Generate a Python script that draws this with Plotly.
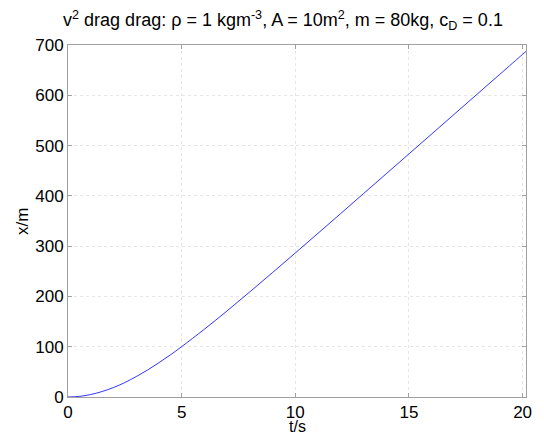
import plotly.graph_objects as go

t_s = [0, 0.5, 1, 1.5, 2, 2.5, 3, 3.5, 4, 4.5, 5, 6, 7, 8, 9, 10, 11, 12, 13, 14, 15, 16, 17, 18, 19, 20, 20.15]
x_m = [0, 1.2, 4.9, 10.9, 18.8, 28.7, 40.6, 53.6, 68.2, 83.6, 100.1, 134.8, 171.3, 209.1, 247.5, 286.4,
       325.6, 364.9, 404.4, 443.9, 483.4, 523.0, 562.6, 602.2, 641.8, 681.4, 687.3]
x_ticks = [0, 5, 10, 15, 20]
y_ticks = [0, 100, 200, 300, 400, 500, 600, 700]

fig = go.Figure()
fig.add_trace(go.Scatter(x=t_s, y=x_m, mode="lines", line=dict(color="#0000ff", width=0.8, shape="spline")))

font = dict(family="Liberation Sans, Arial, sans-serif", size=17, color="black")
axis_common = dict(
    showgrid=True, gridcolor="#e6e6e6", griddash="dot", gridwidth=1,
    showline=True, linecolor="#a0a0a0", linewidth=1, mirror="ticks",
    ticks="inside", ticklen=4, tickcolor="#a0a0a0",
    zeroline=False, tickfont=font, automargin=False,
)
W, H = 544, 436
fig.update_layout(
    width=W, height=H,
    margin=dict(l=68, r=18, t=45, b=39),
    paper_bgcolor="white", plot_bgcolor="white",
    showlegend=False,
    title=dict(text="v<sup>2</sup> drag drag: ρ = 1 kgm<sup>-3</sup>, A = 10m<sup>2</sup>, m = 80kg, c<sub>D</sub> = 0.1",
               x=283/W, xanchor="center", y=1 - 20/H, yanchor="middle",
               font=dict(family="Liberation Sans, Arial, sans-serif", size=18, color="black")),
    xaxis=dict(range=[0, 20.15], tickvals=x_ticks, **axis_common),
    yaxis=dict(range=[0, 700], tickvals=y_ticks, **axis_common),
    annotations=[
        dict(text="t/s", xref="paper", yref="paper", x=(297-68)/(W-86), y=-(436-397)/(H-84),
             xanchor="center", yanchor="bottom", showarrow=False, borderpad=0,
             font=dict(family="Liberation Sans, Arial, sans-serif", size=16, color="black")),
        dict(text="x/m", xref="paper", yref="paper", x=-(68-22)/(W-86), y=(397-222)/(H-84),
             xanchor="center", yanchor="middle", showarrow=False, textangle=-90, font=font),
    ],
)
fig.write_html("out.html")
